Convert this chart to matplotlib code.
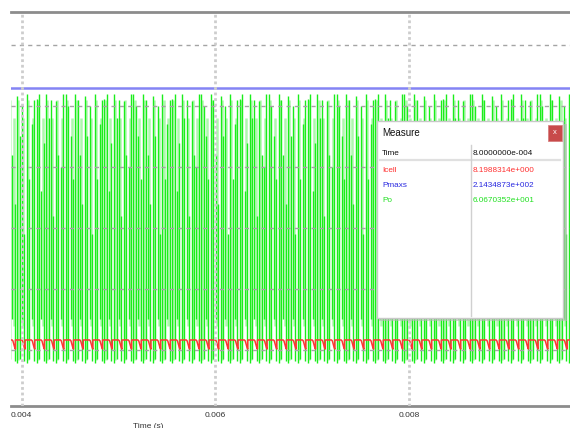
import numpy as np
import matplotlib
matplotlib.use("Agg")
import matplotlib.pyplot as plt
from matplotlib.patches import Rectangle

# ---- data -------------------------------------------------------------
t_start, t_end = 0.00389, 0.009665          # visible time window (s)
switch_period = 1e-4                        # converter switching period (s)
cycle_offset = 0.00004                      # first period start (s)

pmaxs = 214.34873                           # available maximum power (W)

# Icell over one switching period (fraction of period, A)
icell_phase = [0.00, 0.52, 0.60, 0.70, 0.80, 0.86, 0.86]
icell_value = [8.2, 8.2, 7.4, 4.5, 1.6, 0.8, 8.2]

# Po pulses inside one switching period: phase, low level, high level (W)
po_phase = [0.05, 0.30, 0.55, 0.78]
po_low = [-10.5, -7.0, 25.0, -9.0]
po_high_cycle = [
    [210, 205, 160, 120],
    [208, 175, 200, 95],
    [210, 140, 185, 205],
    [206, 210, 130, 170],
    [210, 190, 205, 110],
    [204, 160, 150, 210],
    [210, 200, 175, 140],
]
# fainter Po pulses (between the main ones)
po_faint_phase = [0.17, 0.66]
po_faint_low = [-8.0, 20.0]
po_faint_high = [205, 190]

x_ticks = [0.004, 0.006, 0.008]
x_tick_labels = ["0.004", "0.006", "0.008"]
y_grid = [0, 50, 100, 150, 200, 250]

measure_names = ["Icell", "Pmaxs", "Po"]
measure_values = ["8.1988314e+000", "2.1434873e+002", "6.0670352e+001"]
measure_time = "8.0000000e-004"

# ---- build waveforms --------------------------------------------------
n_periods = int((t_end - t_start) / switch_period) + 3
starts = t_start - cycle_offset + np.arange(n_periods) * switch_period

icell_t = np.concatenate([s + np.array(icell_phase) * switch_period for s in starts])
icell_y = np.tile(icell_value, n_periods)

po_t, po_lo, po_hi = [], [], []
for k, s in enumerate(starts):
    highs = po_high_cycle[k % len(po_high_cycle)]
    for ph, lo, hi in zip(po_phase, po_low, highs):
        po_t.append(s + ph * switch_period)
        po_lo.append(lo)
        po_hi.append(hi)
po_t, po_lo, po_hi = map(np.array, (po_t, po_lo, po_hi))

pf_t = np.concatenate([s + np.array(po_faint_phase) * switch_period for s in starts])
pf_lo = np.tile(po_faint_low, n_periods)
pf_hi = np.tile(po_faint_high, n_periods)

# ---- figure -----------------------------------------------------------
W, H = 570, 428
fig = plt.figure(figsize=(W / 100, H / 100), dpi=100)
fig.patch.set_facecolor("white")

ax = fig.add_axes([11 / W, 22 / H, 559 / W, 394 / H])
ax.set_xlim(t_start, t_end)
ax.set_ylim(-45.9, 277.0)

ax.vlines(pf_t, pf_lo, pf_hi, colors="#aef7ae", linewidth=1.8, zorder=2)
ax.vlines(po_t, po_lo, po_hi, colors="#1aee1a", linewidth=1.0, zorder=3)
ax.plot(icell_t, icell_y, color="#ff3434", linewidth=1.1, zorder=4)
ax.axhline(pmaxs, color="#8484f4", linewidth=1.8, zorder=4)

for y in y_grid:
    ax.axhline(y, color="#a4a4a4", linewidth=1.0, linestyle=(0, (3, 3)), zorder=5)
for x in x_ticks:
    ax.axvline(x, color="#cdcdcd", linewidth=2.0, linestyle=(0, (1, 1)), zorder=5)

for side in ("left", "right"):
    ax.spines[side].set_visible(False)
for side in ("top", "bottom"):
    ax.spines[side].set_color("#8c8c8c")
    ax.spines[side].set_linewidth(2.0)

ax.set_yticks([])
ax.set_xticks(x_ticks)
ax.set_xticklabels(x_tick_labels, fontsize=6.0, family="Liberation Sans", color="#333333")
ax.tick_params(axis="x", length=0, pad=4)

fig.text(148 / W, 1 - 423 / H, "Time (s)", fontsize=6, family="Liberation Sans",
         color="#333333", ha="center", va="top")

# ---- Measure window ---------------------------------------------------
bx, by, bw, bh = 377, 121, 186, 197
shadow = fig.add_axes([(bx + 2) / W, 1 - (by + bh + 3) / H, (bw + 2) / W, bh / H])
shadow.set_axis_off()
shadow.add_patch(Rectangle((0, 0), 1, 1, transform=shadow.transAxes,
                           facecolor="#b8b8b8", edgecolor="none", alpha=0.6))
mw = fig.add_axes([bx / W, 1 - (by + bh) / H, bw / W, bh / H])
mw.set_xlim(0, bw)
mw.set_ylim(bh, 0)
mw.set_xticks([])
mw.set_yticks([])
mw.set_facecolor("white")
for sp in mw.spines.values():
    sp.set_color("#c8c8c8")
    sp.set_linewidth(1.0)

txt = dict(family="Liberation Sans", va="center", ha="left")
mw.text(5, 12, "Measure", fontsize=7.0, color="#111111", **txt)
mw.add_patch(Rectangle((171, 4), 14, 16, facecolor="#c84a4a", edgecolor="#d88080", linewidth=0.6))
mw.text(178, 11.5, "x", fontsize=5.5, color="white", family="Liberation Sans",
        ha="center", va="center")

mw.plot([3, 183], [39, 39], color="#e0e0e0", linewidth=1.6)
mw.plot([94, 94], [24, 195], color="#d0d0d0", linewidth=1.0)
mw.text(5, 32, "Time", fontsize=5.9, color="#111111", **txt)
mw.text(96, 32, measure_time, fontsize=5.9, color="#111111", **txt)
colors = ["#ff3030", "#2828e0", "#20e020"]
for i, (name, val, c) in enumerate(zip(measure_names, measure_values, colors)):
    y = 49 + 15 * i
    mw.text(5, y, name, fontsize=5.9, color=c, **txt)
    mw.text(96, y, val, fontsize=5.9, color=c, **txt)

fig.savefig("out.png", dpi=100, facecolor="white")
